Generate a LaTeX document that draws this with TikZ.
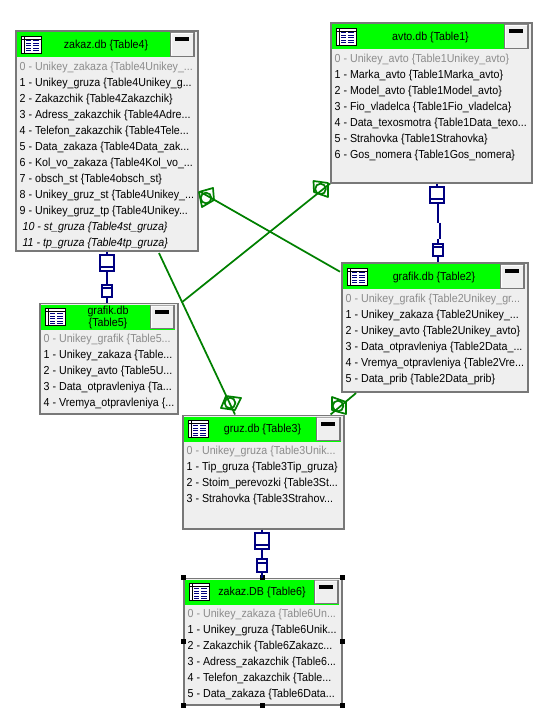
\documentclass[tikz,border=0pt]{standalone}
\usepackage{fontspec}
\setmainfont[FakeStretch=0.92]{Liberation Sans}
\usetikzlibrary{calc}
\definecolor{boxfill}{HTML}{EFEFEF}
\definecolor{boxedge}{HTML}{787878}
\definecolor{titlegreen}{HTML}{00FF00}
\definecolor{relgreen}{HTML}{008000}
\definecolor{relblue}{HTML}{000080}
\definecolor{keygray}{HTML}{8C8C8C}
\tikzset{
  dbbox/.style={draw=boxedge,fill=boxfill,line width=1.2pt,rectangle,inner sep=0pt,anchor=north west},
  rowtext/.style={inner sep=0pt,anchor=west,font=\fontsize{8.7}{10}\selectfont,text height=7.2pt,text depth=1.8pt},
  keyrow/.style={rowtext,text=keygray},
  plainrow/.style={rowtext,text=black},
  calcrow/.style={rowtext,text=black,font=\fontsize{8.7}{10}\selectfont\itshape,xshift=2.2pt},
  titletext/.style={inner sep=0pt,font=\fontsize{8.7}{8.7}\selectfont,align=center},
  relg/.style={draw=relgreen,line width=1.3pt},
  relb/.style={draw=relblue,line width=1.5pt},
  handle/.style={fill=black,draw=none,rectangle,minimum size=3.75pt,inner sep=0pt},
}
% name, left, top, right, bottom, title
\newcommand\dbtable[6]{%
  \node[dbbox,minimum width={(#4-#2)*0.75pt},minimum height={(#5-#3)*0.75pt}] (#1) at (#2,#3) {};
  \fill[titlegreen] (#2+1.6,#3+2.2) rectangle (#4-1.6,#3+27.2);
  \draw[black,line width=0.75pt,fill=white] (#2+6,#3+6.2) rectangle (#2+26,#3+23.2);
  \draw[black,line width=0.75pt] (#2+6,#3+9.2) -- (#2+26,#3+9.2) (#2+9,#3+6.2) -- (#2+9,#3+23.2);
  \foreach \k in {11,13.5,16,18.5,21}{
    \draw[relblue,line width=0.75pt] (#2+11,#3+\k) -- (#2+16,#3+\k) (#2+18,#3+\k) -- (#2+24,#3+\k);
  }
  \draw[boxedge,line width=0.9pt,fill=boxfill] (#4-26.4,#3+2.6) rectangle (#4-3,#3+26.2);
  \fill[white] (#4-26,#3+3) rectangle (#4-25,#3+25.5) (#4-26,#3+3) rectangle (#4-4,#3+4);
  \fill[black] (#4-21.7,#3+7.2) rectangle (#4-7.7,#3+11.2);
  \node[titletext] (#1title) at ({(#2+#4)/2},#3+15.2) {#6};
}
\newcommand\trow[4]{\node[#3] (#1r#2) at ($(#1.north west)+(4.4,{36.5+16*#2})$) {#4};}
\newcommand\bigend[2]{%
  \draw[relb,fill=white] (#1-7.2,#2) rectangle (#1+7.2,#2+16.5);
  \draw[relb] (#1-7.2,#2+12) -- (#1+7.2,#2+12);
}
\newcommand\smallend[2]{%
  \draw[relb,fill=white] (#1-5.2,#2) rectangle (#1+5.2,#2+12.5);
  \draw[relb] (#1-5.2,#2+3.5) -- (#1+5.2,#2+3.5);
}
\newcommand\crowmark[5]{%
  \draw[relg,line join=round] #1 #2 #3 #4 -- cycle;
  \draw[relg] #5;
}
\begin{document}
\begin{tikzpicture}[x=0.75pt,y=-0.75pt]
\useasboundingbox (0,0) rectangle (553,712);
\fill[white] (0,0) rectangle (553,712);

% Tables
\dbtable{t4}{15}{30}{197}{250.5}{zakaz.db \{Table4\}}
\trow{t4}{0}{keyrow}{0 - Unikey\_zakaza \{Table4Unikey\_...}
\trow{t4}{1}{plainrow}{1 - Unikey\_gruza \{Table4Unikey\_g...}
\trow{t4}{2}{plainrow}{2 - Zakazchik \{Table4Zakazchik\}}
\trow{t4}{3}{plainrow}{3 - Adress\_zakazchik \{Table4Adre...}
\trow{t4}{4}{plainrow}{4 - Telefon\_zakazchik \{Table4Tele...}
\trow{t4}{5}{plainrow}{5 - Data\_zakaza \{Table4Data\_zak...}
\trow{t4}{6}{plainrow}{6 - Kol\_vo\_zakaza \{Table4Kol\_vo\_...}
\trow{t4}{7}{plainrow}{7 - obsch\_st \{Table4obsch\_st\}}
\trow{t4}{8}{plainrow}{8 - Unikey\_gruz\_st \{Table4Unikey\_...}
\trow{t4}{9}{plainrow}{9 - Unikey\_gruz\_tp \{Table4Unikey...}
\trow{t4}{10}{calcrow}{10 - st\_gruza \{Table4st\_gruza\}}
\trow{t4}{11}{calcrow}{11 - tp\_gruza \{Table4tp\_gruza\}}

\dbtable{t1}{330}{22}{531}{182}{avto.db \{Table1\}}
\trow{t1}{0}{keyrow}{0 - Unikey\_avto \{Table1Unikey\_avto\}}
\trow{t1}{1}{plainrow}{1 - Marka\_avto \{Table1Marka\_avto\}}
\trow{t1}{2}{plainrow}{2 - Model\_avto \{Table1Model\_avto\}}
\trow{t1}{3}{plainrow}{3 - Fio\_vladelca \{Table1Fio\_vladelca\}}
\trow{t1}{4}{plainrow}{4 - Data\_texosmotra \{Table1Data\_texo...}
\trow{t1}{5}{plainrow}{5 - Strahovka \{Table1Strahovka\}}
\trow{t1}{6}{plainrow}{6 - Gos\_nomera \{Table1Gos\_nomera\}}

\dbtable{t2}{341}{262}{527}{391}{grafik.db \{Table2\}}
\trow{t2}{0}{keyrow}{0 - Unikey\_grafik \{Table2Unikey\_gr...}
\trow{t2}{1}{plainrow}{1 - Unikey\_zakaza \{Table2Unikey\_...}
\trow{t2}{2}{plainrow}{2 - Unikey\_avto \{Table2Unikey\_avto\}}
\trow{t2}{3}{plainrow}{3 - Data\_otpravleniya \{Table2Data\_...}
\trow{t2}{4}{plainrow}{4 - Vremya\_otpravleniya \{Table2Vre...}
\trow{t2}{5}{plainrow}{5 - Data\_prib \{Table2Data\_prib\}}

\dbtable{t5}{39}{302.5}{177}{413}{grafik.db\\\{Table5\}}
\trow{t5}{0}{keyrow}{0 - Unikey\_grafik \{Table5...}
\trow{t5}{1}{plainrow}{1 - Unikey\_zakaza \{Table...}
\trow{t5}{2}{plainrow}{2 - Unikey\_avto \{Table5U...}
\trow{t5}{3}{plainrow}{3 - Data\_otpravleniya \{Ta...}
\trow{t5}{4}{plainrow}{4 - Vremya\_otpravleniya \{...}

\dbtable{t3}{182}{414.5}{343}{528}{gruz.db \{Table3\}}
\trow{t3}{0}{keyrow}{0 - Unikey\_gruza \{Table3Unik...}
\trow{t3}{1}{plainrow}{1 - Tip\_gruza \{Table3Tip\_gruza\}}
\trow{t3}{2}{plainrow}{2 - Stoim\_perevozki \{Table3St...}
\trow{t3}{3}{plainrow}{3 - Strahovka \{Table3Strahov...}

\dbtable{t6}{183}{577.5}{341}{704}{zakaz.DB \{Table6\}}
\trow{t6}{0}{keyrow}{0 - Unikey\_zakaza \{Table6Un...}
\trow{t6}{1}{plainrow}{1 - Unikey\_gruza \{Table6Unik...}
\trow{t6}{2}{plainrow}{2 - Zakazchik \{Table6Zakazc...}
\trow{t6}{3}{plainrow}{3 - Adress\_zakazchik \{Table6...}
\trow{t6}{4}{plainrow}{4 - Telefon\_zakazchik \{Table...}
\trow{t6}{5}{plainrow}{5 - Data\_zakaza \{Table6Data...}

% Selection handles of Table6
\foreach \a [count=\i] in {north west,north,north east,west,east,south west,south,south east}{
  \node[handle] (h\i) at (t6.\a) {};
}

% Green relations
\coordinate (ga1) at ($(t4.north east)+(2,162)$);
\coordinate (ga2) at ($(t2.north west)+(-1,9.7)$);
\coordinate (gb1) at ($(t1.south west)+(0,0)$);
\coordinate (gb2) at ($(t5.north east)+(3,0)$);
\coordinate (gc1) at ($(t4.south west)+(144,1)$);
\coordinate (gc2) at ($(t3.north west)+(53,0)$);
\coordinate (gd1) at ($(t2.south west)+(15,0.5)$);
\coordinate (gd2) at ($(t3.north east)+(-14,0)$);
\draw[relg] (ga1) -- (ga2);
\draw[relg] (gb1) -- (gb2);
\draw[relg] (gc1) -- (gc2);
\draw[relg] (gd1) -- (gd2);
\crowmark{(199,192) --}{(213,188) --}{(214,200) --}{(202,207)}{(206,198) circle[radius=4pt]}
\crowmark{(313.5,181) --}{(328,183) --}{(328,197) --}{(314,192)}{(320.5,189) circle[radius=4pt]}
\crowmark{(226,396) --}{(241,398) --}{(235,410) --}{(221,408)}{(230,403) circle[radius=4pt]}
\crowmark{(332,397) --}{(346,402) --}{(346,414) --}{(332,410)}{(338,406) circle[radius=4pt]}

% Blue relations
\draw[relb] ($(t4.south west)+(92,0)$) -- ($(t5.north west)+(68,0)$);
\bigend{107}{254.7}
\smallend{107}{284.7}
\draw[relb] ($(t1.south west)+(106.5,0)$) -- ++(0,4) ++(1.5,0) -- ++(0,35) ++(1.5,0) -- ++(0,16) ++(-1.5,0) -- ($(t2.north west)+(97,0)$);
\bigend{437}{186.7}
\smallend{438}{244}
\draw[relb] ($(t3.south west)+(80,0)$) -- ($(t6.north west)+(79,0)$);
\bigend{262}{532.7}
\smallend{262}{559.3}
\end{tikzpicture}
\end{document}
